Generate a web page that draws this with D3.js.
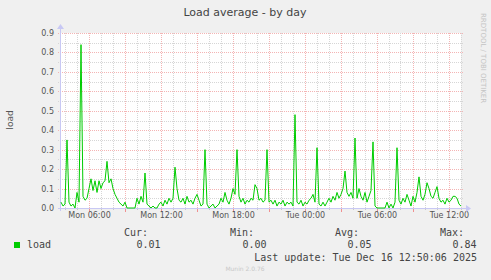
<!DOCTYPE html>
<html>
<head>
<meta charset="utf-8">
<script src="https://cdn.jsdelivr.net/npm/d3@7"></script>
<style>
body { margin: 0; background: #f0f0f0; }
svg { display: block; }
text { font-family: "DejaVu Sans", sans-serif; }
.mono { font-family: "DejaVu Sans Mono", monospace; }
</style>
</head>
<body>
<svg id="chart" width="491" height="280"></svg>
<script>
// load average samples, one every 10 minutes from Mon 03:40
var startTime = new Date(2025, 11, 15, 3, 40);
var stepMinutes = 10;
var loadValues = [
    0.03, 0.01, 0.02, 0.35, 0.03, 0.01, 0.02, 0.00, 0.08, 0.03,
    0.84, 0.06, 0.04, 0.05, 0.10, 0.15, 0.09, 0.14, 0.08, 0.14,
    0.10, 0.13, 0.14, 0.24, 0.13, 0.15, 0.10, 0.07, 0.05, 0.03,
    0.02, 0.01, 0.03, 0.00, 0.00, 0.00, 0.00, 0.00, 0.05, 0.02,
    0.06, 0.03, 0.18, 0.02, 0.01, 0.00, 0.01, 0.00, 0.00, 0.02,
    0.03, 0.01, 0.04, 0.02, 0.05, 0.03, 0.05, 0.21, 0.10, 0.04,
    0.03, 0.05, 0.02, 0.06, 0.03, 0.04, 0.02, 0.05, 0.07, 0.04,
    0.01, 0.02, 0.30, 0.02, 0.00, 0.01, 0.02, 0.00, 0.01, 0.02,
    0.05, 0.03, 0.08, 0.04, 0.02, 0.05, 0.10, 0.07, 0.30, 0.06,
    0.03, 0.05, 0.02, 0.04, 0.03, 0.05, 0.04, 0.12, 0.10, 0.04,
    0.05, 0.03, 0.04, 0.30, 0.03, 0.04, 0.02, 0.04, 0.01, 0.03,
    0.02, 0.04, 0.01, 0.03, 0.02, 0.03, 0.01, 0.48, 0.03, 0.02,
    0.04, 0.01, 0.03, 0.02, 0.04, 0.05, 0.07, 0.03, 0.31, 0.02,
    0.01, 0.03, 0.01, 0.03, 0.05, 0.03, 0.06, 0.04, 0.08, 0.05,
    0.07, 0.10, 0.19, 0.08, 0.06, 0.08, 0.05, 0.36, 0.05, 0.10,
    0.06, 0.04, 0.08, 0.03, 0.06, 0.09, 0.34, 0.01, 0.00, 0.00,
    0.00, 0.00, 0.00, 0.03, 0.00, 0.02, 0.00, 0.03, 0.31, 0.04,
    0.02, 0.05, 0.03, 0.07, 0.04, 0.01, 0.06, 0.03, 0.08, 0.16,
    0.06, 0.04, 0.07, 0.13, 0.10, 0.06, 0.05, 0.08, 0.11, 0.05,
    0.03, 0.04, 0.02, 0.05, 0.03, 0.04, 0.06, 0.06, 0.05, 0.02,
    0.01
];
var yTicks = [0.0, 0.1, 0.2, 0.3, 0.4, 0.5, 0.6, 0.7, 0.8, 0.9];
var legendHeads = ["Cur:", "Min:", "Avg:", "Max:"];
var legendValues = ["0.01", "0.00", "0.05", "0.84"];

var svg = d3.select("#chart");

var x = d3.scaleTime()
    .domain([startTime, new Date(2025, 11, 16, 13, 0)])
    .range([61, 461]);
var y = d3.scaleLinear()
    .domain([0, 0.9])
    .range([208, 33]);

// plot area
svg.append("rect")
    .attr("x", 61).attr("y", 33)
    .attr("width", 400).attr("height", 175)
    .attr("fill", "#ffffff");

var grid = svg.append("g").attr("shape-rendering", "crispEdges");

// horizontal grid, minor every 0.05 and major every 0.1
d3.range(1, 19).forEach(k => {
    var major = k % 2 == 0;
    var py = Math.round(y(k * 0.05)) + 0.5;
    grid.append("line")
        .attr("x1", 58).attr("x2", 464)
        .attr("y1", py).attr("y2", py)
        .attr("stroke", major ? "#f4b4b4" : "#d6d6d6")
        .attr("stroke-dasharray", "1,1");
});

// vertical grid, minor every hour, major every 3 hours
x.ticks(d3.timeHour.every(1)).forEach(t => {
    var px = Math.floor(x(t)) + 0.5;
    var major = t.getHours() % 3 == 0;
    grid.append("line")
        .attr("x1", px).attr("x2", px)
        .attr("y1", 33).attr("y2", 208)
        .attr("stroke", major ? "#f4b4b4" : "#d6d6d6")
        .attr("stroke-dasharray", "1,1");
    grid.append("line")
        .attr("x1", px).attr("x2", px)
        .attr("y1", 208).attr("y2", major ? 212 : 210)
        .attr("stroke", major ? "#f09090" : "#c8c8c8");
});

// y tick labels
svg.append("g").selectAll("text")
    .data(yTicks)
    .enter().append("text")
    .attr("x", 54)
    .attr("y", d => y(d) + 3)
    .attr("text-anchor", "end")
    .attr("font-size", "8px")
    .attr("fill", "#555")
    .text(d => d3.format(".1f")(d));

// x tick labels every 6 hours
var fmt = d3.timeFormat("%a %H:%M");
svg.append("g").selectAll("text")
    .data(x.ticks(d3.timeHour.every(6)))
    .enter().append("text")
    .attr("x", d => Math.floor(x(d)) + 0.5)
    .attr("y", 218)
    .attr("text-anchor", "middle")
    .attr("font-size", "8px")
    .attr("fill", "#555")
    .text(d => fmt(d));

// axes with arrows
grid.append("line")
    .attr("x1", 58).attr("x2", 466)
    .attr("y1", 208.5).attr("y2", 208.5)
    .attr("stroke", "#c8c8f4");
grid.append("line")
    .attr("x1", 60.5).attr("x2", 60.5)
    .attr("y1", 211).attr("y2", 29)
    .attr("stroke", "#c8c8f4");
svg.append("path")
    .attr("d", "M466,205 L471,208.5 L466,212 Z")
    .attr("fill", "#c8c8f4");
svg.append("path")
    .attr("d", "M57,29 L60.5,24 L64,29 Z")
    .attr("fill", "#c8c8f4");

// load line
var line = d3.line()
    .x((d, i) => x(d3.timeMinute.offset(startTime, i * stepMinutes)))
    .y(d => y(d));

svg.append("path")
    .datum(loadValues)
    .attr("d", line)
    .attr("fill", "none")
    .attr("stroke", "#00cc00")
    .attr("stroke-width", 1);

// title and labels
svg.append("text")
    .attr("x", 245).attr("y", 16)
    .attr("text-anchor", "middle")
    .attr("font-size", "11px")
    .attr("fill", "#444")
    .text("Load average - by day");

svg.append("text")
    .attr("transform", "translate(13,120) rotate(-90)")
    .attr("text-anchor", "middle")
    .attr("font-size", "9px")
    .attr("fill", "#555")
    .text("load");

svg.append("text")
    .attr("transform", "translate(481,13) rotate(90)")
    .attr("font-size", "7px")
    .attr("fill", "#c4c4c4")
    .text("RRDTOOL / TOBI OETIKER");

// legend
svg.append("rect")
    .attr("x", 14).attr("y", 242)
    .attr("width", 6).attr("height", 6)
    .attr("fill", "#00cc00");
svg.append("text")
    .attr("class", "mono")
    .attr("x", 27).attr("y", 248)
    .attr("font-size", "10px")
    .attr("fill", "#444")
    .text("load");

var colRight = [148, 254, 359, 464];
svg.append("g").selectAll("text")
    .data(legendHeads)
    .enter().append("text")
    .attr("class", "mono")
    .attr("x", (d, i) => colRight[i])
    .attr("y", 236)
    .attr("text-anchor", "end")
    .attr("font-size", "10px")
    .attr("fill", "#444")
    .text(d => d);
svg.append("g").selectAll("text")
    .data(legendValues)
    .enter().append("text")
    .attr("class", "mono")
    .attr("x", (d, i) => colRight[i] + 12.5)
    .attr("y", 248)
    .attr("text-anchor", "end")
    .attr("font-size", "10px")
    .attr("fill", "#444")
    .text(d => d);

svg.append("text")
    .attr("class", "mono")
    .attr("x", 477).attr("y", 261)
    .attr("text-anchor", "end")
    .attr("font-size", "10px")
    .attr("fill", "#444")
    .text("Last update: Tue Dec 16 12:50:06 2025");

svg.append("text")
    .attr("x", 245).attr("y", 271)
    .attr("text-anchor", "middle")
    .attr("font-size", "6px")
    .attr("fill", "#c8c8c8")
    .text("Munin 2.0.76");
</script>
</body>
</html>
